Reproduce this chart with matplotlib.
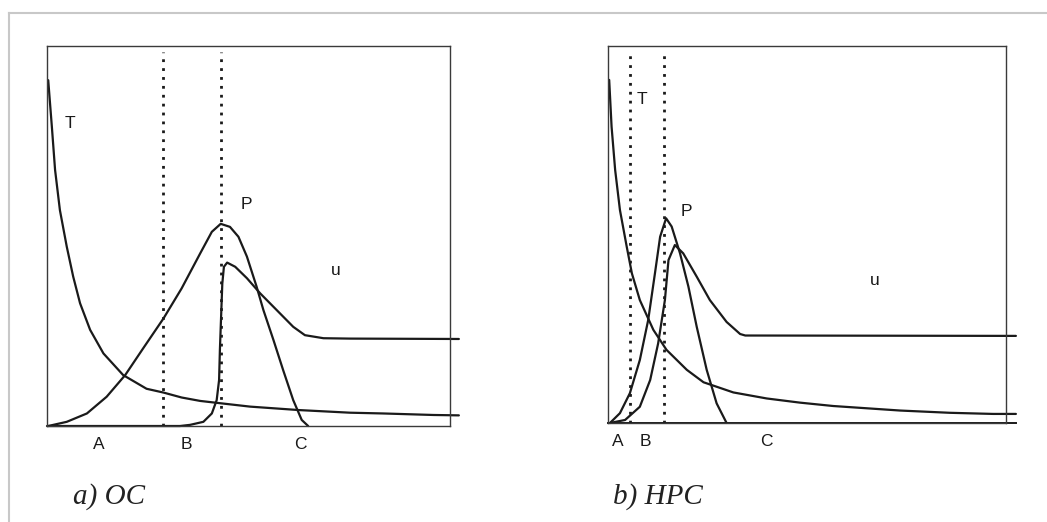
import matplotlib
matplotlib.use("Agg")
import matplotlib.pyplot as plt
from matplotlib.lines import Line2D

# panel a) OC  -- x, y in percent of the plot box
oc_t_x = [0.3, 1.2, 2.0, 3.2, 4.9, 6.5, 8.2, 10.7, 14.0, 18.9, 24.7, 28.9, 33.4, 38.0,
          42.1, 50.4, 62.4, 75.2, 83.4, 95.9, 102.2]
oc_t_y = [91.0, 78.8, 67.4, 56.8, 47.2, 39.3, 32.3, 25.3, 19.1, 13.4, 9.8, 8.8, 7.5, 6.6,
          6.1, 5.1, 4.2, 3.5, 3.3, 2.9, 2.8]
oc_p_x = [0.3, 4.9, 9.9, 14.8, 19.4, 23.9, 28.9, 33.4, 38.0, 40.9, 43.1, 45.4, 47.5,
          49.6, 52.0, 53.7, 56.2, 58.6, 61.1, 63.2, 64.8]
oc_p_y = [0.0, 1.1, 3.3, 7.7, 13.4, 20.5, 28.3, 36.2, 45.4, 51.1, 53.2, 52.4, 49.8,
          44.6, 36.7, 30.5, 22.6, 14.7, 6.8, 1.6, 0.0]
oc_u_x = [0.0, 33.0, 35.5, 38.8, 40.9, 42.1, 42.7, 42.9, 43.2, 43.5, 43.9, 44.7, 46.7,
          49.6, 52.9, 57.0, 61.1, 64.0, 68.6, 75.2, 102.2]
oc_u_y = [0.0, 0.0, 0.3, 1.1, 3.3, 6.8, 12.1, 20.0, 28.8, 37.5, 41.9, 43.0, 41.9,
          38.9, 34.9, 30.5, 26.1, 23.9, 23.1, 23.0, 22.9]
oc_dotted = [28.8, 43.2]
oc_curve_labels = [("T", 5.7, 79.7), ("P", 49.4, 58.2), ("u", 71.7, 41.0)]
oc_axis_labels = [("A", 12.9), ("B", 34.5), ("C", 62.8)]

# panel b) HPC
hpc_t_x = [0.3, 0.9, 1.8, 3.0, 4.7, 6.0, 8.0, 11.4, 14.7, 19.8, 24.0, 31.5, 39.9, 48.2,
           56.6, 65.0, 73.4, 85.9, 96.8, 102.5]
hpc_t_y = [91.0, 78.6, 67.1, 56.5, 46.8, 39.7, 32.6, 24.7, 19.4, 14.1, 10.8, 8.1, 6.5, 5.4,
           4.5, 3.9, 3.3, 2.7, 2.4, 2.4]
hpc_p_x = [0.5, 3.0, 5.5, 8.0, 10.1, 11.8, 13.1, 14.6, 16.0, 18.1, 20.2, 22.3, 24.8,
           27.3, 29.8]
hpc_p_y = [0.0, 2.6, 7.9, 16.7, 27.3, 39.7, 49.4, 54.3, 52.1, 45.0, 36.2, 25.5, 14.1,
           5.2, 0.0]
hpc_u_x = [0.5, 4.3, 8.0, 10.6, 12.6, 14.3, 15.2, 16.8, 18.9, 22.3, 25.6, 29.8, 33.2,
           34.5, 102.5]
hpc_u_y = [0.0, 0.8, 4.3, 11.4, 21.1, 32.6, 43.2, 47.2, 45.0, 38.8, 32.6, 26.8, 23.6,
           23.2, 23.1]
hpc_dotted = [5.5, 14.1]
hpc_curve_labels = [("T", 8.5, 85.7), ("P", 19.8, 56.2), ("u", 67.1, 37.9)]
hpc_axis_labels = [("A", 2.5), ("B", 9.5), ("C", 39.7)]

panels = [
    ("a) OC", [0.0449, 0.1839, 0.3849, 0.728], 73, oc_t_x, oc_t_y, oc_p_x, oc_p_y,
     oc_u_x, oc_u_y, oc_dotted, oc_curve_labels, oc_axis_labels, False),
    ("b) HPC", [0.5807, 0.1897, 0.3801, 0.7222], 613, hpc_t_x, hpc_t_y, hpc_p_x, hpc_p_y,
     hpc_u_x, hpc_u_y, hpc_dotted, hpc_curve_labels, hpc_axis_labels, True),
]

W, H = 1047, 522
fig = plt.figure(figsize=(W / 100, H / 100), dpi=100)
fig.patch.set_facecolor("white")

# light scan frame
fig.add_artist(Line2D([9 / W, 9 / W], [0, 1 - 13 / H], color="#c8c8c8", lw=1.5))
fig.add_artist(Line2D([9 / W, 1], [1 - 13 / H, 1 - 13 / H], color="#c8c8c8", lw=1.5))

ink = "#1a1a1a"
for (title, rect, title_x, tx, ty, px, py, ux, uy, dots, clabels, alabels, baseline) in panels:
    ax = fig.add_axes(rect)
    ax.set_xlim(0, 100)
    ax.set_ylim(0, 100)
    ax.set_xticks([])
    ax.set_yticks([])
    for sp in ax.spines.values():
        sp.set_color("#3a3a3a")
        sp.set_linewidth(1.0)

    for xs, ys in ((tx, ty), (px, py), (ux, uy)):
        ax.plot(xs, ys, color=ink, lw=1.6, clip_on=False,
                solid_joinstyle="round", solid_capstyle="round")
    if baseline:
        ax.plot([0, ux[-1]], [0, 0], color=ink, lw=1.4, clip_on=False)

    for xv in dots:
        ax.plot([xv, xv], [0, 98.4], color=ink, lw=2.0, linestyle=(0, (1, 2.2)))

    for txt, x, y in clabels:
        ax.text(x, y, txt, fontsize=12.5, family="Liberation Sans", color=ink,
                ha="center", va="center")
    for txt, x in alabels:
        ax.text(x, -3.0, txt, fontsize=12.5, family="Liberation Sans", color=ink,
                ha="center", va="top")

    fig.text(title_x / W, 1 - 497 / H, title, fontsize=21,
             family="Liberation Serif", style="italic", color="#222222",
             ha="left", va="center")

fig.savefig("out.png", dpi=100, facecolor="white")
